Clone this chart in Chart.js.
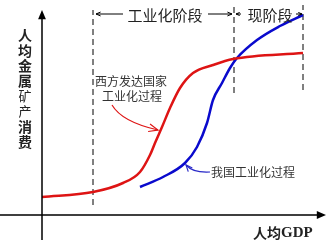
<!DOCTYPE html>
<html>
<head>
<meta charset="utf-8">
<script src="https://cdn.jsdelivr.net/npm/chart.js@4"></script>
<style>
  body { margin: 0; background: #fff; }
  canvas { display: block; }
</style>
</head>
<body>
<canvas id="c" width="327" height="243"></canvas>
<script>
// curves (x = per-capita GDP, y = per-capita mineral use)
const westX = [0, 51, 81, 98, 108, 113, 120, 128, 138, 151, 171, 191, 261];
const westY = [18, 23, 32, 43, 60, 72, 88, 107, 127, 142, 150, 156, 162];
const chinaX = [98, 121, 143, 155, 165, 171, 180, 188, 195, 215, 238, 261];
const chinaY = [28, 38, 52, 68, 92, 115, 132, 147, 157, 175, 189, 200];

// stage boundaries (dashed verticals): x, bottom, top
const stageX = [51, 192, 261];
const stageLo = [10, 122, 125];
const stageHi = [205, 210, 210];

const yTitle = ["人", "均", "金", "属", "矿", "产", "消", "费"];

const pts = (xs, ys) => xs.map((x, i) => ({ x: x, y: ys[i] }));

const datasets = [
  {
    data: pts(westX, westY),
    borderColor: "rgb(222,20,20)",
    borderWidth: 2.5,
    cubicInterpolationMode: "monotone",
  },
  {
    data: pts(chinaX, chinaY),
    borderColor: "rgb(10,10,205)",
    borderWidth: 2.5,
    cubicInterpolationMode: "monotone",
  },
];
stageX.forEach((x, i) => {
  datasets.push({
    data: [{ x: x, y: stageLo[i] }, { x: x, y: stageHi[i] }],
    borderColor: "#000",
    borderWidth: 1,
    borderDash: [6, 4],
  });
});

function arrowHead(ctx, x, y, ang, len, open) {
  ctx.beginPath();
  ctx.moveTo(x - len * Math.cos(ang - 0.4), y - len * Math.sin(ang - 0.4));
  ctx.lineTo(x, y);
  ctx.lineTo(x - len * Math.cos(ang + 0.4), y - len * Math.sin(ang + 0.4));
  if (open) { ctx.stroke(); } else { ctx.closePath(); ctx.fill(); }
}

const decor = {
  id: "decor",
  afterDatasetsDraw(chart) {
    const { ctx } = chart;
    const xs = chart.scales.x, ys = chart.scales.y;
    const ox = xs.getPixelForValue(0), oy = ys.getPixelForValue(0);
    ctx.save();

    // axes
    ctx.strokeStyle = "#000";
    ctx.fillStyle = "#000";
    ctx.lineWidth = 1.5;
    ctx.beginPath();
    ctx.moveTo(ox, 240); ctx.lineTo(ox, 14);
    ctx.moveTo(0, oy); ctx.lineTo(323, oy);
    ctx.stroke();
    arrowHead(ctx, ox, 10, -Math.PI / 2, 10, false);
    arrowHead(ctx, 326, oy, 0, 10, false);

    // stage arrows on top
    const ty = 14;
    ctx.lineWidth = 1;
    ctx.beginPath();
    ctx.moveTo(96, ty); ctx.lineTo(123, ty);
    ctx.moveTo(208, ty); ctx.lineTo(232, ty);
    ctx.moveTo(236, ty); ctx.lineTo(241, ty);
    ctx.moveTo(296, ty); ctx.lineTo(302, ty);
    ctx.stroke();
    arrowHead(ctx, 96, ty, Math.PI, 5, true);
    arrowHead(ctx, 232, ty, 0, 5, true);
    arrowHead(ctx, 236, ty, Math.PI, 4, true);
    arrowHead(ctx, 302, ty, 0, 4, true);

    ctx.fillStyle = "#222";
    ctx.textBaseline = "middle";
    ctx.textAlign = "center";
    ctx.font = "15px 'Noto Sans CJK SC'";
    ctx.fillText("工业化阶段", 165, ty + 1);
    ctx.fillText("现阶段", 270, ty + 1);

    // y title, vertical
    yTitle.forEach((ch, i) => {
      const light = ch === "矿" || ch === "产";
      ctx.font = (light ? "normal 13px" : "bold 14px") + " 'Noto Sans CJK SC'";
      ctx.fillText(ch, 25, 35 + i * 15.3);
    });

    // x title
    ctx.textAlign = "left";
    ctx.font = "bold 14px 'Noto Sans CJK SC'";
    ctx.fillText("人均", 253, 233);
    ctx.font = "bold 15px 'Liberation Serif'";
    ctx.fillText("GDP", 281, 233);

    // annotations
    ctx.textAlign = "center";
    ctx.font = "12px 'Noto Sans CJK SC'";
    ctx.fillStyle = "#333";
    ctx.fillText("西方发达国家", 131, 81);
    ctx.fillText("工业化过程", 132, 96);
    ctx.fillText("我国工业化过程", 253, 172);

    ctx.lineWidth = 1.2;
    ctx.strokeStyle = "rgb(222,20,20)";
    ctx.beginPath();
    ctx.moveTo(112, 105);
    ctx.quadraticCurveTo(122, 122, 158, 130);
    ctx.stroke();
    arrowHead(ctx, 158, 130, 0.25, 10, true);

    ctx.strokeStyle = "rgb(40,40,200)";
    ctx.beginPath();
    ctx.moveTo(210, 172);
    ctx.quadraticCurveTo(193, 173, 186, 165);
    ctx.stroke();
    arrowHead(ctx, 186, 165, -2.3, 7, true);

    ctx.restore();
  },
};

new Chart(document.getElementById("c"), {
  type: "line",
  data: { datasets: datasets },
  options: {
    responsive: false,
    animation: false,
    layout: { padding: 0 },
    elements: { point: { radius: 0 } },
    scales: {
      x: { type: "linear", display: false, min: -42, max: 285 },
      y: { type: "linear", display: false, min: -28, max: 215 },
    },
    plugins: { legend: { display: false }, tooltip: { enabled: false } },
  },
  plugins: [decor],
});
</script>
</body>
</html>
